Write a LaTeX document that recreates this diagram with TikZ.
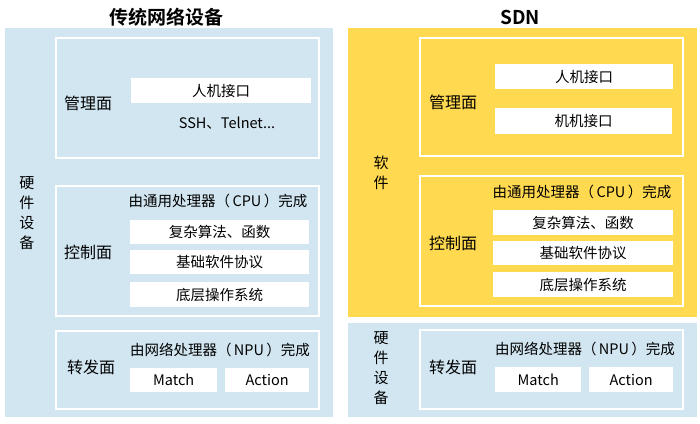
\documentclass[tikz,border=0pt]{standalone}
\usepackage{fontspec}
\setmainfont{Noto Sans CJK SC}
\newfontfamily\titlefont{Noto Sans CJK SC Bold}
\definecolor{pblue}{HTML}{D2E6F1}
\definecolor{pyellow}{HTML}{FFD94F}
\begin{document}
\begin{tikzpicture}[x=1pt,y=-1pt,
  panel/.style={draw=none,anchor=north west,inner sep=0pt},
  frame/.style={draw=white,line width=2pt,anchor=north west,inner sep=0pt},
  wbox/.style={fill=white,draw=none,anchor=north west,inner sep=0pt,font=\fontsize{14.5}{16}\selectfont},
  lbl/.style={font=\fontsize{14.5}{16}\selectfont,inner sep=0pt},
  plbl/.style={font=\fontsize{16}{18}\selectfont,inner sep=0pt},
  vlbl/.style={font=\fontsize{15}{20}\selectfont,inner sep=0pt,align=center},
  ttl/.style={font=\titlefont\fontsize{19}{21}\selectfont,inner sep=0pt}]
\useasboundingbox (0,0) rectangle (700,423);
\fill[white] (0,0) rectangle (700,423);
% titles
\node[ttl] (t1) at (166,17) {传统网络设备};
\node[ttl] (t2) at (520,17) {SDN};
% left panel
\node[panel,fill=pblue,minimum width=328pt,minimum height=389pt] (lp) at (5,28) {};
\node[frame,fill=pblue,minimum width=263pt,minimum height=120pt] (lm) at (55,37) {};
\node[frame,fill=pblue,minimum width=263pt,minimum height=130pt] (lc) at (55,185) {};
\node[frame,fill=pblue,minimum width=263pt,minimum height=78pt] (lf) at (55,330) {};
\node[vlbl] (lhw) at (27,213) {硬\\件\\设\\备};
\node[plbl] (lml) at (88,103) {管理面};
\node[wbox,minimum width=180pt,minimum height=25pt] (lhm) at (131,78) {人机接口};
\node[lbl] (lssh) at (227,123) {SSH、Telnet...};
\node[plbl] (lcl) at (88,252) {控制面};
\node[lbl] (lcpu) at (218,201) {由通用处理器（\,CPU\,）完成};
\node[wbox,minimum width=179pt,minimum height=24pt] (lc1) at (130,220) {复杂算法、函数};
\node[wbox,minimum width=179pt,minimum height=24pt] (lc2) at (130,250) {基础软件协议};
\node[wbox,minimum width=179pt,minimum height=25pt] (lc3) at (130,282) {底层操作系统};
\node[plbl] (lfl) at (91,367) {转发面};
\node[lbl] (lnpu) at (220,350) {由网络处理器（\,NPU\,）完成};
\node[wbox,minimum width=87pt,minimum height=24pt] (lma) at (130,368) {Match};
\node[wbox,minimum width=84pt,minimum height=24pt] (lac) at (225,368) {Action};
% right panels
\node[panel,fill=pyellow,minimum width=349pt,minimum height=289pt] (ry) at (348,28) {};
\node[panel,fill=pblue,minimum width=349pt,minimum height=94pt] (rb) at (348,323) {};
\node[frame,fill=pyellow,minimum width=263pt,minimum height=118pt] (rm) at (419,37) {};
\node[frame,fill=pyellow,minimum width=263pt,minimum height=130pt] (rc) at (419,175) {};
\node[frame,fill=pblue,minimum width=263pt,minimum height=79pt] (rf) at (419,329) {};
\node[vlbl] (rsw) at (381,173) {软\\件};
\node[vlbl] (rhw) at (381,368) {硬\\件\\设\\备};
\node[plbl] (rml) at (453,102) {管理面};
\node[wbox,minimum width=178pt,minimum height=25pt] (rhm) at (495,64) {人机接口};
\node[wbox,minimum width=177pt,minimum height=26pt] (rmm) at (495,108) {机机接口};
\node[plbl] (rcl) at (453,243) {控制面};
\node[lbl] (rcpu) at (582,192) {由通用处理器（\,CPU\,）完成};
\node[wbox,minimum width=180pt,minimum height=25pt] (rc1) at (493,210) {复杂算法、函数};
\node[wbox,minimum width=180pt,minimum height=24pt] (rc2) at (493,241) {基础软件协议};
\node[wbox,minimum width=180pt,minimum height=25pt] (rc3) at (493,272) {底层操作系统};
\node[plbl] (rfl) at (453,367) {转发面};
\node[lbl] (rnpu) at (585,349) {由网络处理器（\,NPU\,）完成};
\node[wbox,minimum width=86pt,minimum height=25pt] (rma) at (495,367) {Match};
\node[wbox,minimum width=84pt,minimum height=25pt] (rac) at (589,367) {Action};
\end{tikzpicture}
\end{document}
